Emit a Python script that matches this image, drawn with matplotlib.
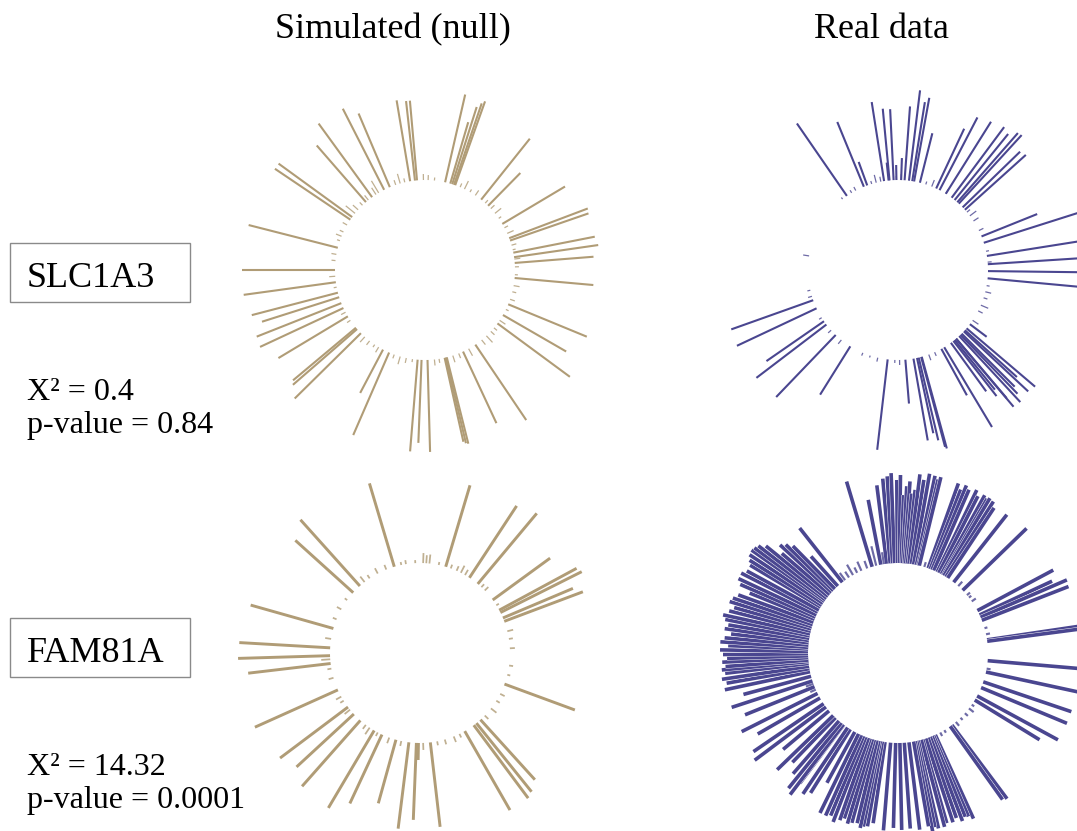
import numpy as np
import matplotlib
matplotlib.use("Agg")
import matplotlib.pyplot as plt
import matplotlib.patheffects as pe
from matplotlib.patches import Rectangle

W, H = 1077, 831
R0 = 90  # radius of the empty inner circle

# ---- data: angle of each bin (deg, counter-clockwise from east) and bar length ----
# SLC1A3, simulated
tl_ang = [99.5, 96.4, 95.1, 77.1, 73.7, 72.4, 71.2, 70.4, 117, 113, 126, 131, 146, 144, 165.7,
          180, 187.8, 194.6, 197.6, 201.6, 205, 211, 219.9, 221, 224.6, 242.2, 246.5, 265.3,
          267.8, 271.6, 282.6, 283.3, 284, 295, 304, 323.6, 330, 337.6, 354.9, 4.5, 8.2, 11.1,
          19.1, 20.7, 30.8, 45.5, 51.4]
tl_len = [82, 80, 80, 90, 64, 81, 86, 89, 91, 80, 91, 75, 91, 91, 92,
          93, 93, 89, 81, 91, 92, 81, 82, 85, 93, 49, 90, 92,
          83, 92, 86, 88, 89, 79, 91, 90, 73, 85, 79, 79, 85, 83,
          83, 84, 73, 46, 78]
tl_tick_ang = [2, 7, 13, 16, 24, 28, 35, 39, 43, 48, 56, 60, 64, 67, 84, 88, 91, 103, 106, 109,
               121, 123, 129, 134, 138, 141, 150, 155, 158, 161, 170, 174, 184, 191, 208, 214,
               228, 232, 236, 239, 250, 254, 258, 262, 276, 279, 288, 292, 299, 309, 313, 317,
               320, 326, 334, 341, 346, 350, 357]
tl_tick_len = [4, 6, 3, 5, 7, 4, 3, 8, 5, 4, 6, 3, 9, 4, 3, 5, 6, 4, 10, 5,
               14, 8, 6, 4, 7, 12, 5, 4, 6, 3, 5, 4, 6, 3, 5, 4,
               7, 5, 3, 6, 4, 8, 5, 3, 6, 4, 7, 5, 8, 6, 9, 5,
               4, 7, 3, 5, 4, 6, 3]

# SLC1A3, real
tr_ang = [124.6, 112.3, 110, 98.9, 96, 95.4, 92.8, 91, 88, 85.8, 83, 80.9, 79.7, 75.9, 64.9,
          62.5, 57.9, 53.4, 51, 48.8, 47.5, 44.1, 42, 21.9, 17.6, 9, 3.7, 359.3, 354.7,
          199.6, 205.2, 214.7, 217.3, 226.2, 238, 263.4, 274.7, 279.9, 282.2, 283.3, 284.9,
          285.3, 298.8, 300.9, 306, 308, 309, 310.2, 310.3, 312.8, 314, 315, 317, 318,
          319.6, 323]
tr_len = [88, 70, 25, 80, 18, 72, 71, 15, 22, 74, 91, 80, 85, 51, 66,
          82, 85, 88, 85, 92, 93, 80, 82, 60, 105, 105, 105, 105, 105,
          87, 88, 70, 88, 86, 57, 91, 44, 83, 77, 85, 93,
          95, 53, 93, 60, 70, 64, 89, 78, 90, 82, 75, 88, 70,
          90, 21]
tr_tick_ang = [5, 12, 26, 33, 37, 40, 58, 68, 72, 88, 91, 101, 104, 107, 118, 121, 128, 171,
               193, 197, 212, 222, 231, 247, 252, 257, 268, 271, 290, 294, 326, 333, 337, 342,
               346, 350]
tr_tick_len = [4, 3, 5, 6, 8, 4, 5, 7, 3, 6, 4, 5, 8, 3, 4, 3, 2, 6,
               3, 4, 3, 4, 5, 3, 2, 4, 3, 5, 6, 4, 7, 5, 8, 4,
               6, 3]

# FAM81A, simulated
bl_ang = [106.6, 73.4, 56.7, 50.1, 36.1, 28.4, 26.7, 22.9, 20.6, 339.8, 312.2, 308.8, 306.7,
          299.8, 276.6, 267.7, 262.9, 269, 254.5, 245, 239.4, 228.5, 222.7, 216.9, 204.2,
          186.7, 181.7, 176.7, 164.2, 137.9, 131.9]
bl_len = [87, 85, 86, 92, 71, 88, 91, 76, 84, 75, 81, 88, 91,
          91, 85, 77, 87, 17, 66, 76, 90, 88, 78, 85, 91,
          83, 92, 91, 86, 78, 89]
bl_tick_ang = [3, 9, 14, 32, 44, 47, 60, 63, 66, 70, 78, 84, 86, 88, 93, 99, 102, 112, 118, 124,
               128, 144, 151, 158, 171, 184, 190, 196, 209, 212, 219, 233, 236, 242, 250, 258,
               272, 281, 286, 292, 296, 316, 322, 328, 333, 346, 352]
bl_tick_len = [5, 4, 6, 3, 5, 4, 6, 8, 5, 4, 3, 9, 8, 10, 3, 4, 3, 5, 6, 4,
               7, 3, 5, 4, 6, 9, 4, 5, 6, 4, 7, 5, 8, 4, 6, 5,
               7, 4, 5, 6, 4, 5, 7, 4, 5, 3, 4]

# FAM81A, real
br_ang = [106.7, 101, 97.2, 95, 93.5, 92.2, 90.4, 89.2, 88, 87, 86, 85.1, 84, 83, 81.5, 80,
          78.2, 77, 76.3, 70.4, 69, 67.8, 66.5, 64.2, 63, 61.2, 60, 59.3, 57.8, 56.5, 51.8,
          44.1, 28.1, 25, 23.4, 21.3, 8.4, 7.5, 355.1, 347.8, 341.3, 337.4, 331.5, 328.5,
          306.8, 305.5, 294.5, 293.3, 292.3, 291, 289.5, 288, 286, 285, 283, 282, 281, 280,
          277, 274, 271.2, 268.5, 265.3, 261.7, 260, 258.7, 257.8, 256.5, 254.8, 253.5, 252,
          250.8, 249, 247.5, 246, 244, 241.3, 238, 236, 233, 232.7, 231, 229, 226, 224, 220,
          216.8, 214.3, 210, 206.7, 202, 198.1, 195, 192, 190, 188.5, 186.7, 185.5, 184.5,
          183, 181.8, 180.5, 179, 177.5, 176.4, 175, 173.5, 172, 170.6, 169, 167.7, 166,
          164.5, 163, 161.6, 160, 158, 156.5, 155, 153, 151.5, 149.3, 148, 146.5, 144.9,
          143.8, 142.5, 141, 139.4, 137.5, 136, 134.5, 132, 128.2]
br_len = [89, 66, 79, 85, 87, 90, 83, 88, 68, 77, 82, 70, 74, 90, 85, 92,
          91, 88, 91, 90, 85, 91, 88, 91, 86, 90, 88, 90, 89, 84, 86,
          89, 86, 80, 94, 93, 105, 105, 105, 105, 93, 93, 92, 76,
          92, 90, 92, 88, 87, 90, 85, 88, 87, 90, 90, 88, 92, 86,
          88, 86, 87, 85, 88, 82, 86, 87, 89, 85, 86, 88, 84,
          87, 91, 86, 88, 88, 58, 75, 80, 73, 88, 84, 70, 62, 78, 60,
          89, 85, 72, 85, 75, 85, 70, 87, 84, 88, 84, 87, 83,
          86, 81, 85, 88, 80, 88, 84, 78, 85, 82, 86, 89, 84,
          80, 86, 84, 80, 70, 82, 86, 86, 82, 82, 85, 88, 89,
          88, 86, 80, 63, 70, 66, 60, 40, 69]
br_tick_ang = [12, 16, 35, 38, 40, 48, 73, 99, 104, 110, 114, 117, 120, 123, 126, 200, 204,
               298, 301, 310, 314, 318, 322, 325, 350]
br_tick_len = [4, 3, 5, 3, 4, 6, 5, 12, 20, 8, 10, 6, 12, 7, 9, 8, 6,
               4, 3, 5, 3, 4, 6, 3, 4]

genes = ["SLC1A3", "FAM81A"]
chi2 = ["X² = 0.4", "X² = 14.32"]
pvals = ["p-value = 0.84", "p-value = 0.0001"]

tan = "#b09c76"
purple = "#4a4690"
serif = "Liberation Serif"

fig = plt.figure(figsize=(W / 100, H / 100), dpi=100)


def panel(cx, cy, ang, ln, tang, tln, color, lw, halo=False):
    # polar axes whose radius 200 maps to 200 px around (cx, cy)
    ax = fig.add_axes([(cx - 200) / W, 1 - (cy + 200) / H, 400 / W, 400 / H], projection="polar")
    ax.patch.set_visible(False)
    ax.set_axis_off()
    ax.set_ylim(0, 200)
    th = np.deg2rad(ang)
    lc = ax.vlines(th, R0, R0 + np.array(ln), colors=color, lw=lw)
    if halo:
        # thin white rim so neighbouring bars stay apart
        lc.set_path_effects([pe.withStroke(linewidth=lw + 0.6, foreground="white")])
    tt = np.deg2rad(tang)
    ax.vlines(tt, R0, R0 + np.array(tln), colors=color, lw=lw * 0.6, alpha=0.8)
    return ax


panel(425, 270, tl_ang, tl_len, tl_tick_ang, tl_tick_len, tan, 1.5)
panel(898, 270, tr_ang, tr_len, tr_tick_ang, tr_tick_len, purple, 1.5)
panel(420, 653, bl_ang, bl_len, bl_tick_ang, bl_tick_len, tan, 2.1)
panel(898, 653, br_ang, br_len, br_tick_ang, br_tick_len, purple, 2.6, halo=True)

# column titles
fig.text(393 / W, 1 - 38 / H, "Simulated (null)", ha="center", va="baseline", fontsize=26, family=serif)
fig.text(881 / W, 1 - 38 / H, "Real data", ha="center", va="baseline", fontsize=26, family=serif)

# row labels and statistics
box_top = [243, 618]
for i in range(2):
    y0 = box_top[i]
    fig.add_artist(Rectangle((10 / W, 1 - (y0 + 59) / H), 180 / W, 59 / H, transform=fig.transFigure,
                             fill=False, edgecolor="#8a8a8a", lw=1))
    fig.text(27 / W, 1 - (y0 + 44) / H, genes[i], ha="left", va="baseline", fontsize=26, family=serif)
    fig.text(27 / W, 1 - (y0 + 157) / H, chi2[i], ha="left", va="baseline", fontsize=23, family=serif)
    fig.text(27 / W, 1 - (y0 + 190) / H, pvals[i], ha="left", va="baseline", fontsize=23, family=serif)

fig.savefig("out.png", dpi=100, facecolor="white")
